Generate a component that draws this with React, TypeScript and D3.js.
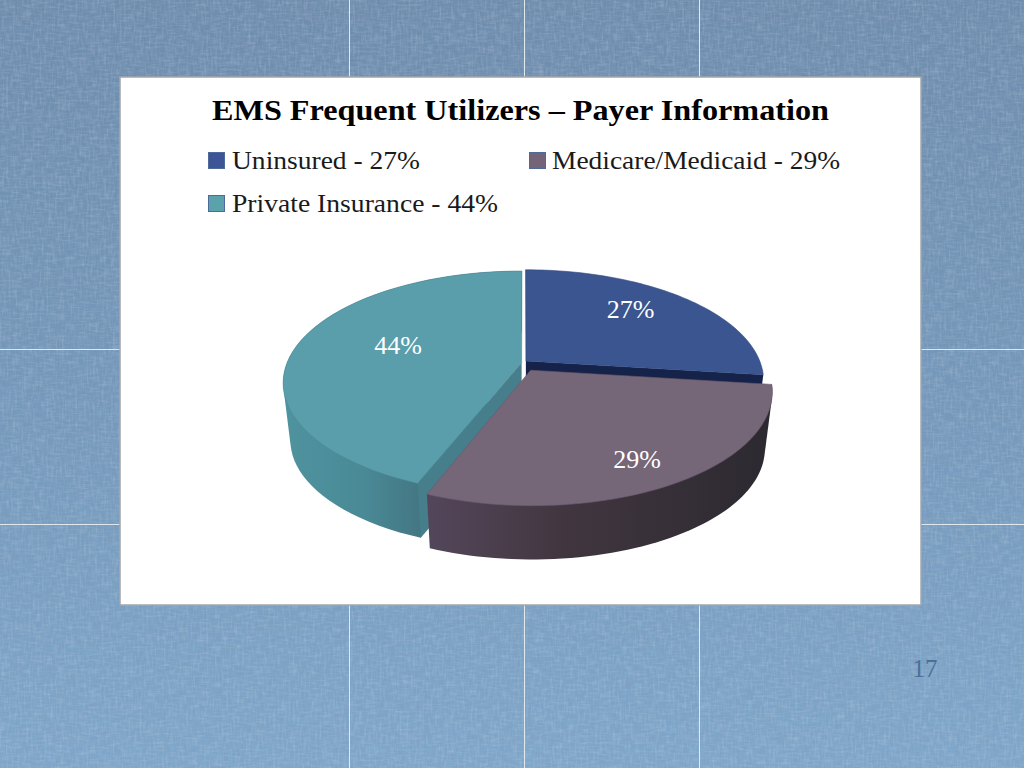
import React from 'react';
import * as d3 from 'd3';

const title = 'EMS Frequent Utilizers – Payer Information';
const payers = ['Uninsured', 'Medicare/Medicaid', 'Private Insurance'];
const shares = [27, 29, 44];
const topColors = ['#3a5590', '#756678', '#5a9eac'];
const swatchColors = ['#3d5596', '#736478', '#5aa3ad'];
const pageNumber = '17';

// how far each slice is pulled out of the pie (share of the radius) and in which direction (degrees from 12 o'clock)
const explode = [0.03, 0.064, 0.0145];
const pullAngle = [20, 152, -34];
// label placement, polar within the slice
const labelRadius = [0.72, 0.8, 0.57];
const labelTurn = [-5.6, 1.6, 6.7];
const legendTextWidths = [188, 288, 266];

const WIDTH = 1024;
const HEIGHT = 768;
const cx = 523.5;
const cy = 364;
const RX = 235;
const RY = 108.6;
const PERSPECTIVE = 0.18;
const DEPTH = 58;
const BOTTOM_SCALE = 0.97;
const RAD = Math.PI / 180;

type Pt = [number, number];

// pie plane to screen, far side smaller than near side
const project = (angle: number, r: number, i: number, bottom = false): Pt => {
  const X = r * Math.sin(angle) + explode[i] * Math.sin(pullAngle[i] * RAD);
  const Y = r * Math.cos(angle) + explode[i] * Math.cos(pullAngle[i] * RAD);
  const s = 1 / (1 + PERSPECTIVE * Y);
  const x = RX * X * s;
  const y = -RY * Y * s;
  if (!bottom) return [cx + x, cy + y];
  return [cx + x * BOTTOM_SCALE, cy + y * BOTTOM_SCALE + DEPTH];
};

const line = d3.line<Pt>();
const closed = (pts: Pt[]) => line(pts) + 'Z';

const arcPoints = (a0: number, a1: number, i: number, bottom = false): Pt[] =>
  d3.range(0, 61).map((k) => project(a0 + ((a1 - a0) * k) / 60, 1, i, bottom));

const slices = d3
  .pie<number>()
  .sort(null)
  .startAngle(0)
  .endAngle(2 * Math.PI)(shares);

const App: React.FC = () => {
  const [blue, purple, teal] = slices;

  const top = (d: d3.PieArcDatum<number>, i: number) =>
    closed([project(0, 0, i), ...arcPoints(d.startAngle, d.endAngle, i)]);

  // outer rim wall: hull of the two rims, the top face is painted over the rest
  const wall = (d: d3.PieArcDatum<number>, i: number) =>
    closed(
      d3.polygonHull([...arcPoints(d.startAngle, d.endAngle, i), ...arcPoints(d.startAngle, d.endAngle, i, true)]) as Pt[],
    );

  // flat cut face running from the pie centre out to the rim
  const cutFace = (angle: number, i: number) =>
    closed([project(0, 0, i), project(angle, 1, i), project(angle, 1, i, true), project(0, 0, i, true)]);

  return (
    <svg
      width={WIDTH}
      height={HEIGHT}
      viewBox={`0 0 ${WIDTH} ${HEIGHT}`}
      style={{ position: 'absolute', left: 0, top: 0 }}
      fontFamily="'Liberation Serif', serif"
    >
      <defs>
        <linearGradient id="bg" x1="0" y1="0" x2="0" y2="1">
          <stop offset="0" stopColor="#6d8bab" />
          <stop offset="0.5" stopColor="#7497b9" />
          <stop offset="1" stopColor="#7fa7ca" />
        </linearGradient>
        <filter id="darkH" x="0" y="0" width="100%" height="100%">
          <feTurbulence type="fractalNoise" baseFrequency="0.09 0.45" numOctaves="2" seed="4" />
          <feColorMatrix values="0 0 0 0 0.22  0 0 0 0 0.33  0 0 0 0 0.5  2.4 0 0 0 -1.05" />
        </filter>
        <filter id="darkV" x="0" y="0" width="100%" height="100%">
          <feTurbulence type="fractalNoise" baseFrequency="0.45 0.09" numOctaves="2" seed="12" />
          <feColorMatrix values="0 0 0 0 0.22  0 0 0 0 0.33  0 0 0 0 0.5  2.4 0 0 0 -1.05" />
        </filter>
        <filter id="lightH" x="0" y="0" width="100%" height="100%">
          <feTurbulence type="fractalNoise" baseFrequency="0.09 0.45" numOctaves="2" seed="21" />
          <feColorMatrix values="0 0 0 0 0.75  0 0 0 0 0.85  0 0 0 0 0.95  2.4 0 0 0 -1.05" />
        </filter>
        <filter id="lightV" x="0" y="0" width="100%" height="100%">
          <feTurbulence type="fractalNoise" baseFrequency="0.45 0.09" numOctaves="2" seed="33" />
          <feColorMatrix values="0 0 0 0 0.75  0 0 0 0 0.85  0 0 0 0 0.95  2.4 0 0 0 -1.05" />
        </filter>
        <linearGradient id="tealWall" gradientUnits="userSpaceOnUse" x1="285" y1="0" x2="422" y2="0">
          <stop offset="0" stopColor="#4f939f" />
          <stop offset="0.55" stopColor="#4a8a97" />
          <stop offset="1" stopColor="#447683" />
        </linearGradient>
        <linearGradient id="purpleWall" gradientUnits="userSpaceOnUse" x1="429" y1="0" x2="770" y2="0">
          <stop offset="0" stopColor="#54465a" />
          <stop offset="0.4" stopColor="#41363f" />
          <stop offset="1" stopColor="#2c2931" />
        </linearGradient>
      </defs>

      <rect width={WIDTH} height={HEIGHT} fill="url(#bg)" />
      <rect width={WIDTH} height={HEIGHT} filter="url(#darkH)" opacity={0.35} />
      <rect width={WIDTH} height={HEIGHT} filter="url(#darkV)" opacity={0.35} />
      <rect width={WIDTH} height={HEIGHT} filter="url(#lightH)" opacity={0.14} />
      <rect width={WIDTH} height={HEIGHT} filter="url(#lightV)" opacity={0.14} />

      {[349.5, 524.5, 699.5].map((x) => (
        <line key={x} x1={x} x2={x} y1={0} y2={HEIGHT} stroke="#dfe7ef" strokeWidth={1} />
      ))}
      {[349.5, 524.5].map((y) => (
        <line key={y} x1={0} x2={WIDTH} y1={y} y2={y} stroke="#dfe7ef" strokeWidth={1} />
      ))}

      <rect x={120} y={77} width={801} height={528} fill="#fff" stroke="#a3a7ab" strokeWidth={1.5} />

      <text x={212} y={120} fontSize={30} fontWeight="bold" fill="#000" textLength={617} lengthAdjust="spacingAndGlyphs">
        {title}
      </text>

      {payers.map((p, i) => {
        const col = i === 2 ? 0 : i;
        const row = i === 2 ? 1 : 0;
        const x = 208 + col * 321;
        const y = 152 + row * 43;
        return (
          <g key={p}>
            <rect x={x + 0.5} y={y + 0.5} width={16} height={16} fill={swatchColors[i]} stroke="#4f6a99" strokeWidth={1} />
            <text
              x={col === 0 ? x + 24 : x + 23}
              y={y + 17}
              fontSize={26}
              fill="#1a1a1a"
              textLength={legendTextWidths[i]}
              lengthAdjust="spacingAndGlyphs"
            >
              {`${p} - ${shares[i]}%`}
            </text>
          </g>
        );
      })}

      {/* painted back to front: teal, blue, then the pulled-out purple slice */}
      <path d={wall(teal, 2)} fill="url(#tealWall)" />
      <path d={cutFace(teal.startAngle, 2)} fill="#467f8b" />
      <path d={top(teal, 2)} fill={topColors[2]} stroke="#4b8a96" strokeWidth={0.6} />

      <path d={cutFace(blue.endAngle, 0)} fill="#15224a" />
      <path d={top(blue, 0)} fill={topColors[0]} stroke="#34497d" strokeWidth={0.6} />

      <path d={wall(purple, 1)} fill="url(#purpleWall)" />
      <path d={top(purple, 1)} fill={topColors[1]} stroke="#6a5b6e" strokeWidth={0.6} />

      {slices.map((d, i) => {
        const a = (d.startAngle + d.endAngle) / 2 + labelTurn[i] * RAD;
        const [x, y] = project(a, labelRadius[i], i);
        return (
          <text key={i} x={x} y={y} dy="0.35em" textAnchor="middle" fontSize={26} fill="#fff">
            {`${shares[i]}%`}
          </text>
        );
      })}

      <text x={925} y={677} textAnchor="middle" fontSize={25} fill="#4d6f96">
        {pageNumber}
      </text>
    </svg>
  );
};

export default App;
